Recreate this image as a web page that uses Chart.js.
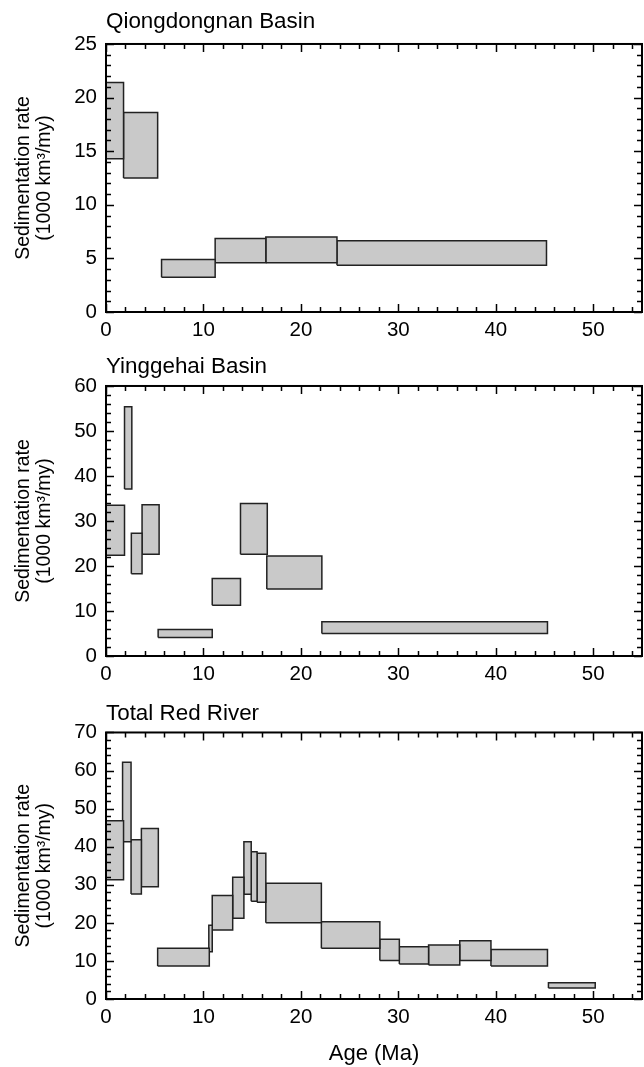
<!DOCTYPE html>
<html>
<head>
<meta charset="utf-8">
<script src="https://cdn.jsdelivr.net/npm/chart.js@4.4.1/dist/chart.umd.min.js"></script>
<style>
  body { margin: 0; background: #fff; }
  canvas { position: absolute; left: 0; }
</style>
</head>
<body>
<canvas id="qdnChart" width="644" height="345" style="top:0px"></canvas>
<canvas id="yghChart" width="644" height="345" style="top:345px"></canvas>
<canvas id="totalChart" width="644" height="377" style="top:690px"></canvas>
<script>
// each box = one age interval (Ma) with a low/high sedimentation rate (1000 km3/my)

// Qiongdongnan Basin
const qdnAgeFrom = [0, 1.8, 5.7, 11.2, 16.4, 23.7];
const qdnAgeTo   = [1.8, 5.3, 11.2, 16.4, 23.7, 45.2];
const qdnRateLow = [14.3, 12.5, 3.25, 4.6, 4.6, 4.35];
const qdnRateHigh = [21.4, 18.6, 4.9, 6.85, 7.0, 6.65];

// Yinggehai Basin
const yghAgeFrom = [0, 1.9, 2.6, 3.7, 5.35, 10.9, 13.8, 16.5, 22.15];
const yghAgeTo   = [1.9, 2.65, 3.7, 5.45, 10.9, 13.8, 16.55, 22.15, 45.3];
const yghRateLow = [22.4, 37.1, 18.3, 22.6, 4.1, 11.3, 22.6, 14.9, 5.0];
const yghRateHigh = [33.5, 55.4, 27.3, 33.6, 5.9, 17.2, 33.9, 22.2, 7.6];

// Total Red River
const totAgeFrom = [0, 1.7, 2.57, 3.63, 5.3, 10.55, 10.9, 13.0, 14.15, 14.9, 15.5, 16.4, 22.1, 28.1, 30.1, 33.1, 36.3, 39.5, 45.4];
const totAgeTo   = [1.8, 2.57, 3.63, 5.37, 10.6, 10.9, 13.0, 14.15, 14.9, 15.5, 16.4, 22.1, 28.1, 30.1, 33.1, 36.3, 39.5, 45.3, 50.2];
const totRateLow = [31.3, 41.3, 27.6, 29.5, 8.7, 12.4, 18.1, 21.2, 27.5, 25.7, 25.4, 20.0, 13.3, 10.1, 9.2, 8.9, 10.1, 8.7, 2.9];
const totRateHigh = [46.8, 62.2, 41.8, 44.8, 13.3, 19.4, 27.2, 32.0, 41.3, 38.7, 38.3, 30.4, 20.3, 15.7, 13.7, 14.2, 15.3, 13.0, 4.3];

// axes
const panelTitles = ['Qiongdongnan Basin', 'Yinggehai Basin', 'Total Red River'];
const yMax = [25, 60, 70];
const yStep = [5, 10, 10];
const yMinorStep = [1, 2, 2];
const xMax = 55;
const xStep = 10;
const xMinorStep = 2;

const FONT = '"Liberation Sans", Arial, Helvetica, sans-serif';

function boxDatasets(from, to, low, high) {
    return from.map(function (x0, i) {
        return {
            data: [
                {x: x0, y: low[i]}, {x: to[i], y: low[i]},
                {x: to[i], y: high[i]}, {x: x0, y: high[i]},
                {x: x0, y: low[i]}
            ],
            showLine: true,
            fill: 'shape',
            backgroundColor: '#c9c9c9',
            borderColor: '#222',
            borderWidth: 1.5,
            borderJoinStyle: 'miter',
            pointRadius: 0,
            tension: 0
        };
    });
}

// box frame with inward ticks on all four sides
const frameTicks = {
    id: 'frameTicks',
    afterDatasetsDraw(chart, args, opts) {
        const ctx = chart.ctx;
        const a = chart.chartArea;
        const x = chart.scales.x;
        const y = chart.scales.y;
        ctx.save();
        ctx.strokeStyle = '#000';
        ctx.lineWidth = 1.5;
        ctx.beginPath();
        for (let v = 0; v <= xMax; v += xMinorStep) {
            const px = Math.round(x.getPixelForValue(v)) + 0.5;
            const len = v % xStep === 0 ? 8 : 5;
            ctx.moveTo(px, a.bottom); ctx.lineTo(px, a.bottom - len);
            ctx.moveTo(px, a.top); ctx.lineTo(px, a.top + len);
        }
        for (let v = 0; v <= opts.max; v += opts.minor) {
            const py = Math.round(y.getPixelForValue(v)) + 0.5;
            const len = v % opts.major === 0 ? 8 : 5;
            ctx.moveTo(a.left, py); ctx.lineTo(a.left + len, py);
            ctx.moveTo(a.right, py); ctx.lineTo(a.right - len, py);
        }
        ctx.stroke();
        ctx.lineWidth = 2;
        ctx.strokeRect(a.left, a.top, a.right - a.left, a.bottom - a.top);
        ctx.restore();
    }
};

function makeOptions(idx, titlePad, xHeight, showXTitle) {
    return {
        responsive: false,
        animation: false,
        devicePixelRatio: 1,
        events: [],
        layout: { padding: { left: 0, right: 2, top: 0, bottom: 0 } },
        plugins: {
            legend: { display: false },
            tooltip: { enabled: false },
            title: {
                display: true,
                text: panelTitles[idx],
                align: 'start',
                fullSize: false,
                color: '#000',
                font: { family: FONT, size: 22.4, weight: 'normal', lineHeight: 1.2 },
                padding: titlePad
            },
            frameTicks: { max: yMax[idx], major: yStep[idx], minor: yMinorStep[idx] }
        },
        scales: {
            x: {
                type: 'linear',
                min: 0,
                max: xMax,
                grid: { display: false, drawTicks: false },
                border: { display: false },
                ticks: {
                    stepSize: xStep,
                    includeBounds: false,
                    padding: 6,
                    maxRotation: 0,
                    color: '#000',
                    font: { family: FONT, size: 20.5 }
                },
                title: {
                    display: showXTitle,
                    text: 'Age (Ma)',
                    color: '#000',
                    font: { family: FONT, size: 22 },
                    padding: { top: 0, bottom: 0 }
                },
                afterFit: function (s) { s.height = xHeight; }
            },
            y: {
                type: 'linear',
                min: 0,
                max: yMax[idx],
                grid: { display: false, drawTicks: false },
                border: { display: false },
                ticks: {
                    stepSize: yStep[idx],
                    padding: 9,
                    color: '#000',
                    font: { family: FONT, size: 20.5 }
                },
                title: {
                    display: true,
                    text: ['Sedimentation rate', '(1000 km\u00b3/my)'],
                    color: '#000',
                    font: { family: FONT, size: 19.5, lineHeight: 1.03 },
                    padding: { top: 14, bottom: 0 }
                },
                afterFit: function (s) { s.width = 106; }
            }
        }
    };
}

document.addEventListener('DOMContentLoaded', function () {
    new Chart(document.getElementById('qdnChart'), {
        type: 'scatter',
        data: { datasets: boxDatasets(qdnAgeFrom, qdnAgeTo, qdnRateLow, qdnRateHigh) },
        options: makeOptions(0, { top: 8.6, bottom: 8.5 }, 33, false),
        plugins: [frameTicks]
    });
    new Chart(document.getElementById('yghChart'), {
        type: 'scatter',
        data: { datasets: boxDatasets(yghAgeFrom, yghAgeTo, yghRateLow, yghRateHigh) },
        options: makeOptions(1, { top: 8, bottom: 6.1 }, 34, false),
        plugins: [frameTicks]
    });
    new Chart(document.getElementById('totalChart'), {
        type: 'scatter',
        data: { datasets: boxDatasets(totAgeFrom, totAgeTo, totRateLow, totRateHigh) },
        options: makeOptions(2, { top: 10.6, bottom: 5 }, 68, true),
        plugins: [frameTicks]
    });
});
</script>
</body>
</html>
